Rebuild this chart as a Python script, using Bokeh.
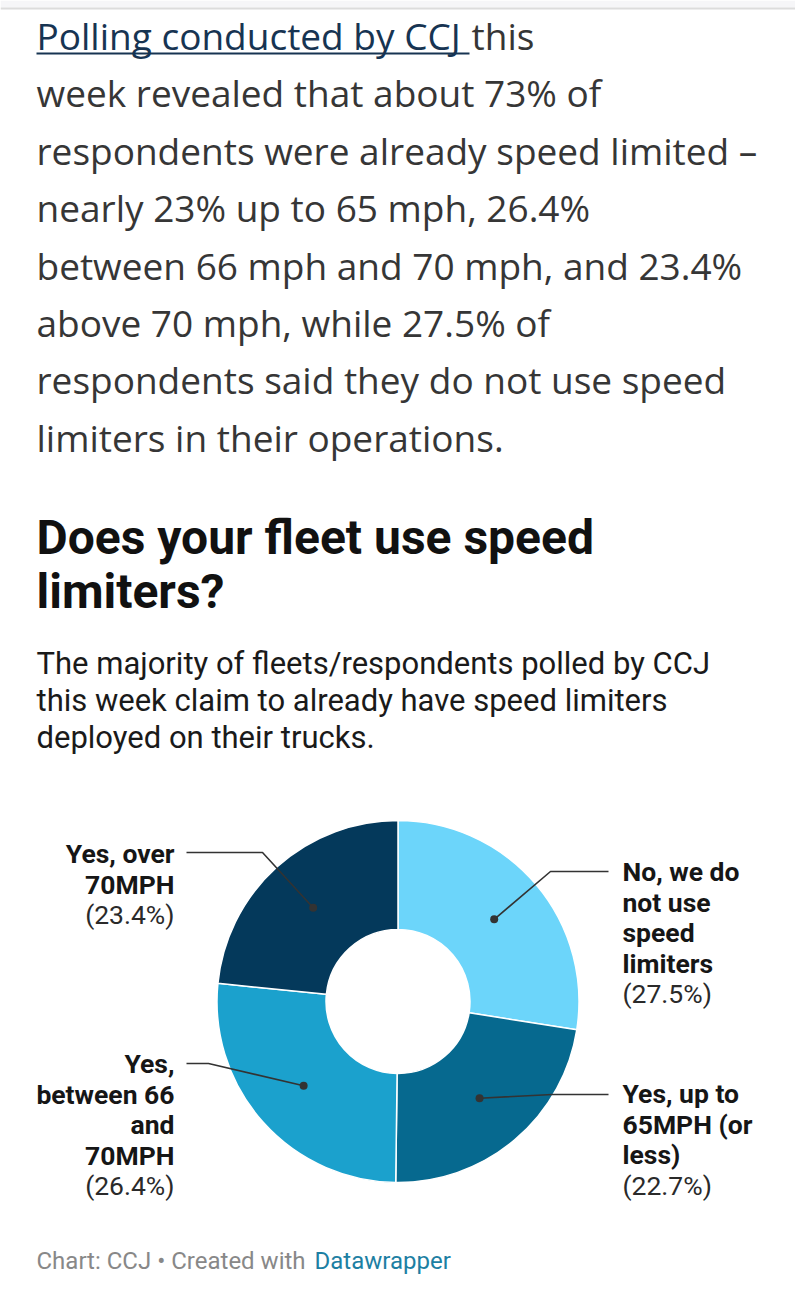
import numpy as np
from bokeh.plotting import figure
from bokeh.models import Range1d
from bokeh.core.properties import value
from bokeh.embed import file_html
from bokeh.resources import INLINE

# ---------------- data ----------------
categories = ["No, we do not use speed limiters", "Yes, up to 65MPH (or less)",
              "Yes, between 66 and 70MPH", "Yes, over 70MPH"]
values = [27.5, 22.7, 26.4, 23.4]
colors = ["#6cd5fa", "#06698f", "#1ba1cd", "#04395b"]
label_lines = [["No, we do", "not use", "speed", "limiters"],
               ["Yes, up to", "65MPH (or", "less)"],
               ["Yes,", "between 66", "and", "70MPH"],
               ["Yes, over", "70MPH"]]
pct_labels = ["(%.1f%%)" % v for v in values]

paragraph = ["week revealed that about 73% of",
             "respondents were already speed limited \u2013",
             "nearly 23% up to 65 mph, 26.4%",
             "between 66 mph and 70 mph, and 23.4%",
             "above 70 mph, while 27.5% of",
             "respondents said they do not use speed",
             "limiters in their operations."]
link_text = "Polling conducted by CCJ"
title_lines = ["Does your fleet use speed", "limiters?"]
subtitle_lines = ["The majority of fleets/respondents polled by CCJ",
                  "this week claim to already have speed limiters",
                  "deployed on their trucks."]

# ---------------- layout ----------------
W, H = 795, 1300
def Y(py):
    return H - py

p = figure(width=W, height=H, x_range=Range1d(0, W), y_range=Range1d(0, H),
           output_backend="svg", toolbar_location=None, min_border=0)
p.axis.visible = False
p.grid.visible = False
p.outline_line_color = None
p.background_fill_color = "white"
p.border_fill_color = "white"

# top browser band
p.quad(left=[0], right=[W], bottom=[Y(7)], top=[Y(0)], fill_color="#f6f6f8", line_color=None)
p.segment(x0=[0], y0=[Y(8)], x1=[W], y1=[Y(8)], line_color="#dcdcdc", line_width=2)

# paragraph
PF = value("Open Sans")
PS = "37px"
p.text(x=[36], y=[Y(35)], text=[link_text], text_font=PF, text_font_size=PS,
       text_color="#173452", text_baseline="middle")
p.segment(x0=[36], y0=[Y(53)], x1=[469], y1=[Y(53)], line_color="#173452", line_width=2)
p.text(x=[471], y=[Y(35)], text=["this"], text_font=PF, text_font_size=PS,
       text_color="#363636", text_baseline="middle")
p.text(x=[36] * len(paragraph), y=[Y(35 + 57.4 * (i + 1)) for i in range(len(paragraph))],
       text=paragraph, text_font=PF, text_font_size=PS, text_color="#363636",
       text_baseline="middle")

# title & subtitle
p.text(x=[36, 36], y=[Y(537), Y(591)], text=title_lines, text_font=value("Roboto"),
       text_font_size="48px", text_font_style="bold", text_color="#111111",
       text_baseline="middle")
p.text(x=[36] * 3, y=[Y(663), Y(700), Y(737)], text=subtitle_lines, text_font=value("Roboto"),
       text_font_size="31px", text_color="#1a1a1a", text_baseline="middle")

# donut
cx, cy = 397.5, 1001
r_out, r_in = 181, 72
frac = np.cumsum([0] + values) / sum(values)
start = np.pi / 2 - 2 * np.pi * frac[:-1]
end = np.pi / 2 - 2 * np.pi * frac[1:]
p.annular_wedge(x=cx, y=Y(cy), inner_radius=r_in, outer_radius=r_out,
                start_angle=start, end_angle=end, direction="clock",
                fill_color=colors, line_color="white", line_width=1.5)

# leader lines
mid = (frac[:-1] + frac[1:]) / 2
theta = np.pi / 2 - 2 * np.pi * mid
rm = (r_in + r_out) / 2
dot_x = cx + rm * np.cos(theta)
dot_y = Y(cy) + rm * np.sin(theta)
anchors = [(608, 871), (608, 1094), (186, 1063), (186, 852)]
elbows = [(550, 871), (552, 1094), (208, 1063), (262, 852)]
xs = [[a[0], e[0], dx] for a, e, dx in zip(anchors, elbows, dot_x)]
ys = [[Y(a[1]), Y(e[1]), dy] for a, e, dy in zip(anchors, elbows, dot_y)]
p.multi_line(xs=xs, ys=ys, line_color="#333333", line_width=1.6)
p.scatter(x=dot_x, y=dot_y, size=8, fill_color="#333333", line_color=None)

# labels
label_x = [622, 622, 174, 174]
label_align = ["left", "left", "right", "right"]
first_center = [871, 1093, 1063, 853]
LH = 30.6
for lines, pct, lx, al, fc in zip(label_lines, pct_labels, label_x, label_align, first_center):
    n = len(lines)
    p.text(x=[lx] * n, y=[Y(fc + LH * i) for i in range(n)], text=lines,
           text_font=value("Roboto"), text_font_size="26.5px", text_font_style="bold",
           text_color="#161616", text_align=al, text_baseline="middle")
    p.text(x=[lx], y=[Y(fc + LH * n)], text=[pct], text_font=value("Roboto"),
           text_font_size="26.5px", text_color="#2a2a2a", text_align=al,
           text_baseline="middle")

# footer
p.text(x=[36], y=[Y(1260)], text=["Chart: CCJ \u2022 Created with"], text_font=value("Roboto"),
       text_font_size="24px", text_color="#888888", text_baseline="middle")
p.text(x=[314], y=[Y(1260)], text=["Datawrapper"], text_font=value("Roboto"),
       text_font_size="24px", text_color="#1d7fa3", text_baseline="middle")

open("out.html", "w").write(file_html(p, INLINE))
